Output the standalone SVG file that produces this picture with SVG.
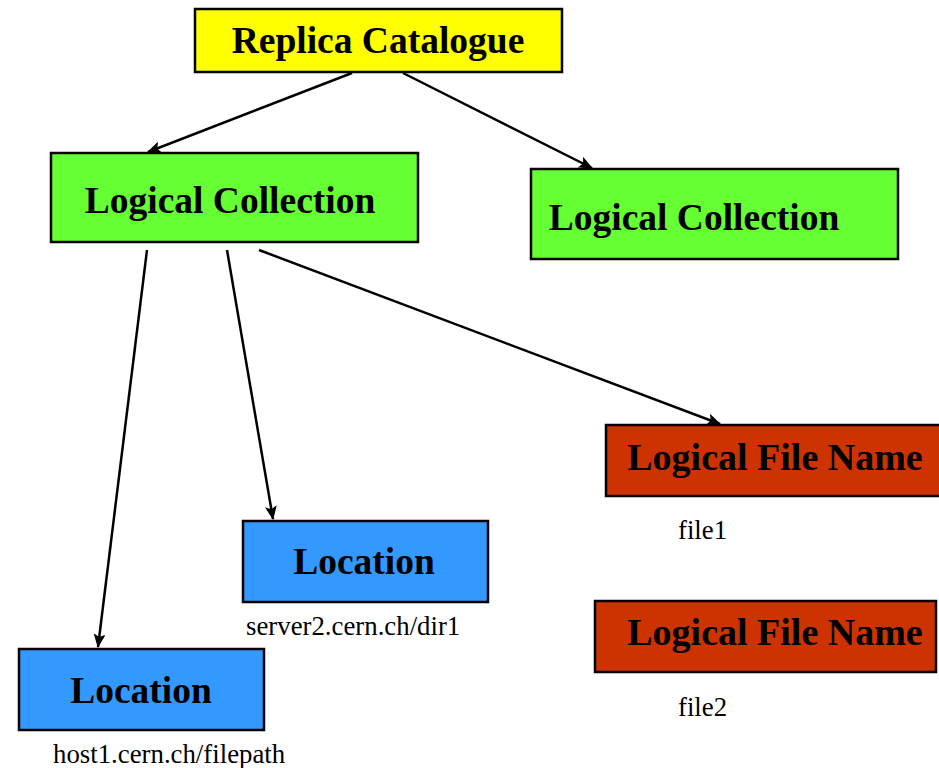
<svg xmlns="http://www.w3.org/2000/svg" width="939" height="768" viewBox="0 0 939 768">
  <style>
    .box { stroke: #000; stroke-width: 2.5; }
    .catalogue { fill: #FFFF00; }
    .collection { fill: #66FF33; }
    .lfn { fill: #CC3300; }
    .location { fill: #3399FF; }
    .title { font-family: "Liberation Serif", "Times New Roman", serif; font-weight: bold; font-size: 37.5px; fill: #000; text-anchor: middle; }
    .lfn-title { font-size: 38px; }
    .note { font-family: "Liberation Serif", "Times New Roman", serif; font-size: 26.8px; fill: #000; }
    .edge { stroke: #000; stroke-width: 2.5; fill: none; marker-end: url(#arrow); }
  </style>
  <defs>
    <marker id="arrow" markerUnits="userSpaceOnUse" markerWidth="14" markerHeight="12" refX="13" refY="6" orient="auto">
      <path d="M0,0 L14,6 L0,12 L3,6 Z" fill="#000"/>
    </marker>
  </defs>

  <rect width="939" height="768" fill="#fff"/>

  <g id="connectors">
    <line class="edge" x1="352" y1="73" x2="148" y2="152"/>
    <line class="edge" x1="403" y1="73" x2="592" y2="168"/>
    <line class="edge" x1="147" y1="250" x2="98" y2="647"/>
    <line class="edge" x1="227" y1="250" x2="273" y2="519"/>
    <line class="edge" x1="259" y1="250" x2="720" y2="424"/>
  </g>

  <g id="replica-catalogue">
    <rect class="box catalogue" x="195" y="9" width="367" height="63"/>
    <text class="title" x="378" y="53">Replica Catalogue</text>
  </g>

  <g id="logical-collection-1">
    <rect class="box collection" x="51" y="153" width="367" height="89"/>
    <text class="title" x="230" y="213">Logical Collection</text>
  </g>

  <g id="logical-collection-2">
    <rect class="box collection" x="531" y="169" width="367" height="90"/>
    <text class="title" x="694" y="230">Logical Collection</text>
  </g>

  <g id="logical-file-name-1">
    <rect class="box lfn" x="606" y="425" width="345" height="71"/>
    <text class="title lfn-title" x="775" y="470">Logical File Name</text>
    <text class="note" x="678" y="539">file1</text>
  </g>

  <g id="logical-file-name-2">
    <rect class="box lfn" x="595" y="601" width="341" height="71"/>
    <text class="title lfn-title" x="775" y="645">Logical File Name</text>
    <text class="note" x="678" y="716">file2</text>
  </g>

  <g id="location-2">
    <rect class="box location" x="243" y="521" width="245" height="81"/>
    <text class="title" x="364" y="574">Location</text>
    <text class="note" x="246" y="635">server2.cern.ch/dir1</text>
  </g>

  <g id="location-1">
    <rect class="box location" x="19" y="649" width="245" height="81"/>
    <text class="title" x="141" y="703">Location</text>
    <text class="note" x="53" y="763">host1.cern.ch/filepath</text>
  </g>
</svg>
